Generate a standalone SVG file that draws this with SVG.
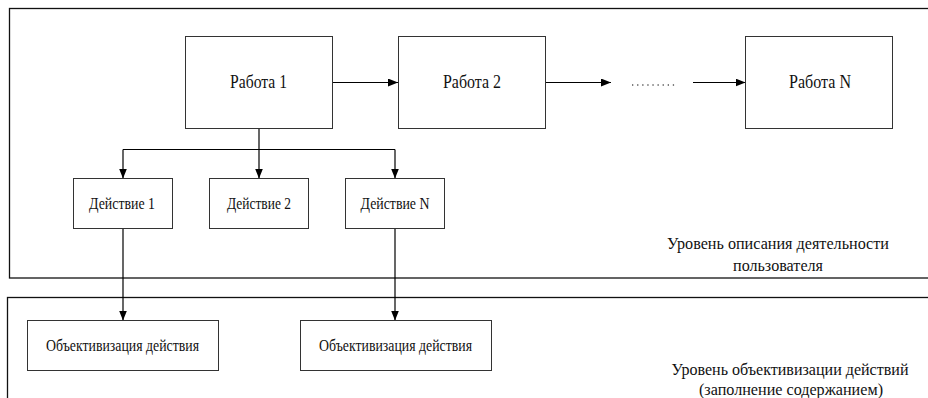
<svg xmlns="http://www.w3.org/2000/svg" width="928" height="398" viewBox="0 0 928 398">
<defs>
<marker id="ah" markerWidth="10" markerHeight="8" refX="10" refY="4" orient="auto" markerUnits="userSpaceOnUse">
<path d="M0,0 L10,4 L0,8 Z" fill="#000"/>
</marker>
<style>
.frame{fill:none;stroke:#111;stroke-width:1.3}
.box{fill:#fff;stroke:#333;stroke-width:1}
.c{fill:none;stroke:#000;stroke-width:1.2}
</style>
</defs>
<rect width="928" height="398" fill="#fff"/>
<g font-family="Liberation Serif, DejaVu Serif, Times New Roman, serif" fill="#111" text-anchor="middle">
<g id="level-top">
<rect class="frame" x="9.5" y="8.5" width="930" height="269.5"/>
<text x="778" y="249" font-size="17" textLength="222" lengthAdjust="spacingAndGlyphs">Уровень описания деятельности</text>
<text x="778" y="271" font-size="17" textLength="90" lengthAdjust="spacingAndGlyphs">пользователя</text>
</g>
<g id="level-bottom">
<rect class="frame" x="7.5" y="297.5" width="930" height="120"/>
<text x="790" y="375" font-size="17" textLength="237" lengthAdjust="spacingAndGlyphs">Уровень объективизации действий</text>
<text x="791" y="395" font-size="17" textLength="184" lengthAdjust="spacingAndGlyphs">(заполнение содержанием)</text>
</g>
<g id="connectors">
<line class="c" x1="333" y1="82.5" x2="398" y2="82.5" marker-end="url(#ah)"/>
<line class="c" x1="546" y1="82.5" x2="611" y2="82.5" marker-end="url(#ah)"/>
<line x1="632" y1="85" x2="676" y2="85" stroke="#000" stroke-width="1" stroke-dasharray="1.3 3.8"/>
<line class="c" x1="693" y1="82.5" x2="745.5" y2="82.5" marker-end="url(#ah)"/>
<line class="c" x1="259" y1="128" x2="259" y2="149.5" stroke-width="1.6"/>
<line class="c" x1="123" y1="149.5" x2="395" y2="149.5"/>
<line class="c" x1="123" y1="149.5" x2="123" y2="178.5" marker-end="url(#ah)"/>
<line class="c" x1="259" y1="149.5" x2="259" y2="178.5" marker-end="url(#ah)"/>
<line class="c" x1="395" y1="149.5" x2="395" y2="178.5" marker-end="url(#ah)"/>
<line class="c" x1="123" y1="228" x2="123" y2="320.5" marker-end="url(#ah)"/>
<line class="c" x1="395" y1="228" x2="395" y2="320.5" marker-end="url(#ah)"/>
</g>
<g id="work1">
<rect class="box" x="185.5" y="36.5" width="147" height="92"/>
<text x="258.5" y="88" font-size="18" textLength="57" lengthAdjust="spacingAndGlyphs">Работа 1</text>
</g>
<g id="work2">
<rect class="box" x="398.5" y="36.5" width="147" height="92"/>
<text x="472" y="88" font-size="18" textLength="58" lengthAdjust="spacingAndGlyphs">Работа 2</text>
</g>
<g id="workN">
<rect class="box" x="745.5" y="36.5" width="147" height="92"/>
<text x="820" y="88" font-size="18" textLength="62" lengthAdjust="spacingAndGlyphs">Работа N</text>
</g>
<g id="action1">
<rect class="box" x="73.5" y="178.5" width="99" height="50"/>
<text x="122" y="209" font-size="16" textLength="66" lengthAdjust="spacingAndGlyphs">Действие 1</text>
</g>
<g id="action2">
<rect class="box" x="209.5" y="178.5" width="99" height="50"/>
<text x="259" y="209" font-size="16" textLength="64" lengthAdjust="spacingAndGlyphs">Действие 2</text>
</g>
<g id="actionN">
<rect class="box" x="345.5" y="178.5" width="99" height="50"/>
<text x="395" y="209" font-size="16" textLength="69" lengthAdjust="spacingAndGlyphs">Действие N</text>
</g>
<g id="obj1">
<rect class="box" x="27.5" y="320.5" width="191" height="50"/>
<text x="122.5" y="351" font-size="16" textLength="153" lengthAdjust="spacingAndGlyphs">Объективизация действия</text>
</g>
<g id="obj2">
<rect class="box" x="300.5" y="320.5" width="191" height="50"/>
<text x="395.5" y="351" font-size="16" textLength="153" lengthAdjust="spacingAndGlyphs">Объективизация действия</text>
</g>
</g>
</svg>
